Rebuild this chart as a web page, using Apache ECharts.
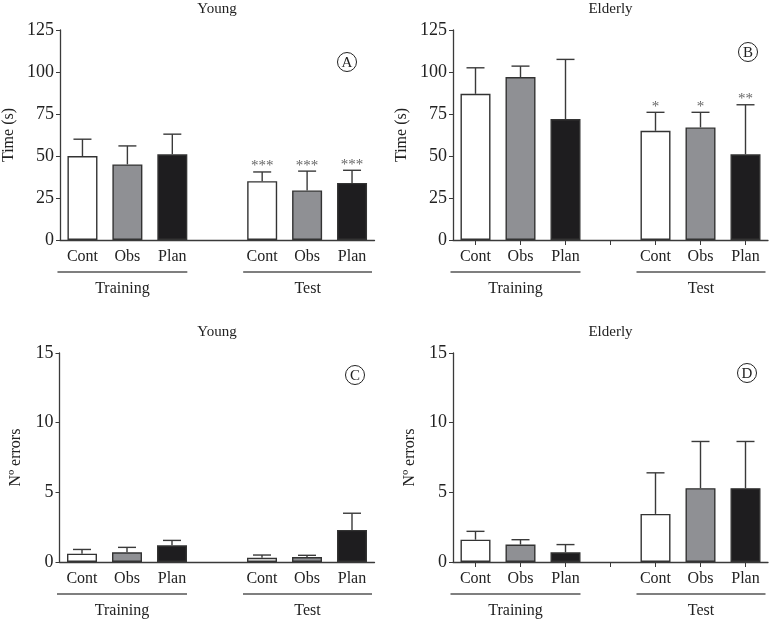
<!DOCTYPE html>
<html lang="en">
<head>
<meta charset="UTF-8">
<title>Young / Elderly</title>
<style>
  html, body { margin: 0; padding: 0; background: #fff; }
  #main { width: 771px; height: 626px; }
</style>
</head>
<body>
<div id="main"></div>
<script src="https://cdn.jsdelivr.net/npm/echarts@6/dist/echarts.min.js"></script>
<script>
// categories (4th slot is the gap between Training and Test)
var categories = ['Cont', 'Obs', 'Plan', '', 'Cont', 'Obs', 'Plan'];
var groups = [[0, 2], [4, 6]];
var groupNames = ['Training', 'Test'];

// A: time, young
var timeYoung = [50, 45, 51, null, 35, 29.5, 34];
var timeYoungSd = [10, 11, 12, null, 5.5, 11.5, 7.5];
var timeYoungStars = ['', '', '', '', '***', '***', '***'];
// B: time, elderly
var timeOld = [87, 97, 72, null, 65, 67, 51];
var timeOldSd = [15.5, 6.5, 35.5, null, 11, 9, 29.5];
var timeOldStars = ['', '', '', '', '*', '*', '**'];
// C: errors, young
var errYoung = [0.6, 0.7, 1.2, null, 0.3, 0.35, 2.3];
var errYoungSd = [0.3, 0.35, 0.35, null, 0.2, 0.13, 1.2];
// D: errors, elderly
var errOld = [1.6, 1.25, 0.7, null, 3.45, 5.3, 5.3];
var errOldSd = [0.6, 0.35, 0.55, null, 2.95, 3.35, 3.35];

var fills = ['#ffffff', '#8f9094', '#1e1d1f'];
var font = 'Liberation Serif';
var ink = '#222';
var axisColor = '#3a3a3a';

var chart = echarts.init(document.getElementById('main'));

var panels = [
  { mean: timeYoung, sd: timeYoungSd, stars: timeYoungStars, max: 125, step: 25, name: 'Time (s)', title: 'Young', letter: 'A',
    grid: { left: 59.5, top: 30, width: 315, height: 210 }, ticks: false, nameGap: 43, letterPos: [347, 62] },
  { mean: timeOld, sd: timeOldSd, stars: timeOldStars, max: 125, step: 25, name: 'Time (s)', title: 'Elderly', letter: 'B',
    grid: { left: 453, top: 30, width: 315, height: 210 }, ticks: true, nameGap: 43, letterPos: [748, 52] },
  { mean: errYoung, sd: errYoungSd, stars: null, max: 15, step: 5, name: 'Nº errors', title: 'Young', letter: 'C',
    grid: { left: 59.5, top: 353, width: 315, height: 209 }, ticks: false, nameGap: 36, letterPos: [355, 375] },
  { mean: errOld, sd: errOldSd, stars: null, max: 15, step: 5, name: 'Nº errors', title: 'Elderly', letter: 'D',
    grid: { left: 453, top: 353, width: 315, height: 209 }, ticks: true, nameGap: 35, letterPos: [747, 373] }
];

var option = { animation: false, title: [], grid: [], xAxis: [], yAxis: [], series: [], graphic: [] };

panels.forEach(function (p, k) {
  option.grid.push(p.grid);
  option.title.push({
    text: p.title, left: p.grid.left + p.grid.width / 2, top: p.grid.top - 28, textAlign: 'center', padding: 0,
    textStyle: { fontFamily: font, fontSize: 15, fontWeight: 'normal', color: ink }
  });
  option.xAxis.push({
    type: 'category', gridIndex: k, data: categories,
    axisLine: { lineStyle: { color: axisColor, width: 1.3 } },
    axisTick: { show: p.ticks, alignWithLabel: true, length: 5, lineStyle: { color: axisColor } },
    axisLabel: { margin: 9, fontFamily: font, fontSize: 16, color: ink }
  });
  option.yAxis.push({
    type: 'value', gridIndex: k, min: 0, max: p.max, interval: p.step,
    name: p.name, nameLocation: 'middle', nameGap: p.nameGap,
    nameTextStyle: { fontFamily: font, fontSize: 16, color: ink },
    splitLine: { show: false },
    axisLine: { show: true, lineStyle: { color: axisColor, width: 1.3 } },
    axisTick: { show: true, length: 4, lineStyle: { color: axisColor } },
    axisLabel: { margin: 6, fontFamily: font, fontSize: 18, color: ink }
  });
  // bars
  option.series.push({
    type: 'bar', xAxisIndex: k, yAxisIndex: k, barWidth: 30,
    data: p.mean.map(function (v, i) {
      return { value: v == null ? '-' : v, itemStyle: { color: fills[i % 4 === 3 ? 0 : (i > 3 ? i - 4 : i)] } };
    }),
    itemStyle: { borderColor: '#333', borderWidth: 1.4 }
  });
  // error bars + significance stars
  var errData = [];
  p.mean.forEach(function (v, i) { if (v != null) errData.push([i, v, v + p.sd[i]]); });
  var stars = p.stars;
  option.series.push({
    type: 'custom', xAxisIndex: k, yAxisIndex: k, clip: false, z: 5,
    encode: { x: 0, y: [1, 2] },
    data: errData,
    renderItem: function (params, api) {
      var i = api.value(0);
      var lo = api.coord([i, api.value(1)]);
      var hi = api.coord([i, api.value(2)]);
      var st = { stroke: '#3a3a3a', lineWidth: 1.4 };
      var kids = [
        { type: 'line', shape: { x1: lo[0], y1: lo[1], x2: hi[0], y2: hi[1] }, style: st },
        { type: 'line', shape: { x1: hi[0] - 9, y1: hi[1], x2: hi[0] + 9, y2: hi[1] }, style: st }
      ];
      if (stars && stars[i]) {
        kids.push({ type: 'text', x: hi[0], y: hi[1] + 2,
          style: { text: stars[i], fill: '#666', font: '15px "' + font + '"', align: 'center', verticalAlign: 'bottom' } });
      }
      return { type: 'group', children: kids };
    }
  });
  // group underlines with Training / Test labels
  option.series.push({
    type: 'custom', xAxisIndex: k, yAxisIndex: k, clip: false, silent: true,
    encode: { x: [0, 1], y: 2 },
    data: groups.map(function (g) { return [g[0], g[1], 0]; }),
    renderItem: function (params, api) {
      var a = api.coord([api.value(0), 0]);
      var b = api.coord([api.value(1), 0]);
      var first = params.dataIndex === 0;
      var x1 = a[0] - (first ? 25 : 19), x2 = b[0] + (first ? 15 : 20), y = a[1] + 32;
      return { type: 'group', children: [
        { type: 'line', shape: { x1: x1, y1: y, x2: x2, y2: y }, style: { stroke: '#555', lineWidth: 1.3 } },
        { type: 'text', x: (x1 + x2) / 2, y: y + 17,
          style: { text: groupNames[params.dataIndex], fill: ink, font: '16px "' + font + '"', align: 'center', verticalAlign: 'middle' } }
      ] };
    }
  });
  // panel letter
  option.graphic.push({
    type: 'group', x: p.letterPos[0], y: p.letterPos[1], children: [
      { type: 'circle', shape: { cx: 0, cy: 0, r: 9.5 }, style: { fill: 'none', stroke: '#222', lineWidth: 1 } },
      { type: 'text', x: 0, y: 1, style: { text: p.letter, fill: '#222', font: '15px "' + font + '"', align: 'center', verticalAlign: 'middle' } }
    ]
  });
});

chart.setOption(option);
</script>
</body>
</html>
